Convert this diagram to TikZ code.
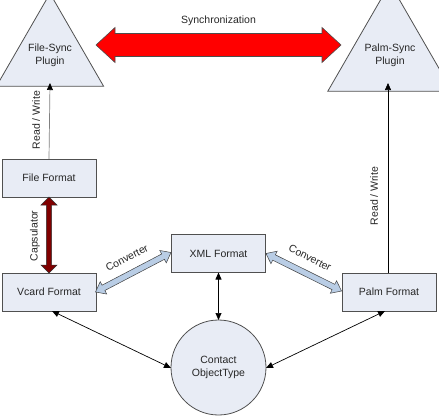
\documentclass[tikz,border=0pt]{standalone}
\usepackage{fontspec}
\setmainfont{Liberation Sans}
\usetikzlibrary{calc,shapes.geometric,arrows.meta}
\definecolor{boxfill}{HTML}{E8ECF5}
\definecolor{boxline}{HTML}{505050}
\definecolor{convfill}{HTML}{B9CDE5}
\definecolor{capsred}{HTML}{800000}
\definecolor{txt}{HTML}{262626}
\newcommand{\fatarrow}[6]{%
  \draw[#6] (#1) -- ($(#1)!#5!(#2)!#4!90:(#2)$) -- ($(#1)!#5!(#2)!#3!90:(#2)$)
   -- ($(#2)!#5!(#1)!#3!-90:(#1)$) -- ($(#2)!#5!(#1)!#4!-90:(#1)$) -- (#2)
   -- ($(#2)!#5!(#1)!#4!90:(#1)$) -- ($(#2)!#5!(#1)!#3!90:(#1)$)
   -- ($(#1)!#5!(#2)!#3!-90:(#2)$) -- ($(#1)!#5!(#2)!#4!-90:(#2)$) -- cycle;}
\tikzset{
  base/.style={font=\fontsize{10.5}{12.5}\selectfont, text=txt},
  box/.style={base, draw=boxline, fill=boxfill, line width=0.8pt, minimum width=94pt, minimum height=38pt, inner sep=0pt, outer sep=0pt},
  tri/.style={base, draw=boxline, fill=boxfill, line width=0.8pt, regular polygon, regular polygon sides=3, minimum size=110.9pt, inner sep=0pt, outer sep=0pt, align=center},
  circ/.style={base, draw=boxline, fill=boxfill, line width=0.8pt, circle, minimum size=95pt, inner sep=0pt, outer sep=0pt, align=center},
  lbl/.style={base, inner sep=1pt},
  thin/.style={line width=0.7pt, -{Triangle[length=7pt,width=6pt,color=black]}},
  thinboth/.style={line width=0.7pt, {Triangle[length=7pt,width=6pt]}-{Triangle[length=7pt,width=6pt]}},
}
\begin{document}
\begin{tikzpicture}[x=1pt,y=-1pt]
\useasboundingbox (0,0) rectangle (439,415);
% nodes
\node[tri] (fsync) at (50,55.3) {File-Sync\\Plugin};
\node[tri] (psync) at (390,55.3) {Palm-Sync\\Plugin};
\node[box] (file) at (49,178) {File Format};
\node[box] (vcard) at (49,292) {Vcard Format};
\node[box] (xml) at (218.5,253.5) {XML Format};
\node[box] (palm) at (389,292) {Palm Format};
\node[circ] (contact) at (218.5,367.5) {Contact\\ObjectType};
% synchronization arrow
\coordinate (syncL) at (96,45);
\coordinate (syncR) at (341,45);
\fatarrow{syncL}{syncR}{11.5pt}{17.5pt}{19pt}{fill=red, draw=black!70, line width=0.6pt}
\node[lbl] (synclbl) at (218.5,21) {Synchronization};
% read / write
\draw[thin, draw=gray] (file.north) -- (fsync.side 2 |- 0,83) coordinate (fsb);
\node[lbl, rotate=90] (rwl) at (36,120) {Read / Write};
\draw[thin] (palm.north -| 388,0) -- (388,83);
\node[lbl, rotate=90] (rwr) at (374,196) {Read / Write};
% capsulator
\fatarrow{file.south}{vcard.north}{2.7pt}{8pt}{8pt}{fill=capsred, draw=black!80, line width=0.5pt}
\node[lbl, rotate=90] (caplbl) at (35,236) {Capsulator};
% converters
\coordinate (c1a) at (95.5,292);
\coordinate (c1b) at (171,252.5);
\fatarrow{c1a}{c1b}{3pt}{7pt}{9pt}{fill=convfill, draw=black!75, line width=0.5pt}
\node[lbl, rotate=27.6] (conv1) at (127,258) {Converter};
\coordinate (c2a) at (266,253.5);
\coordinate (c2b) at (341.5,291);
\fatarrow{c2a}{c2b}{3pt}{7pt}{9pt}{fill=convfill, draw=black!75, line width=0.5pt}
\node[lbl, rotate=-26.4] (conv2) at (310,258) {Converter};
% to contact
\draw[thinboth] (xml.south) -- (contact.north);
\draw[thinboth] (52,311) -- (contact.west |- 0,368);
\draw[thinboth] (385,311) -- (contact.east |- 0,368);
\end{tikzpicture}
\end{document}
